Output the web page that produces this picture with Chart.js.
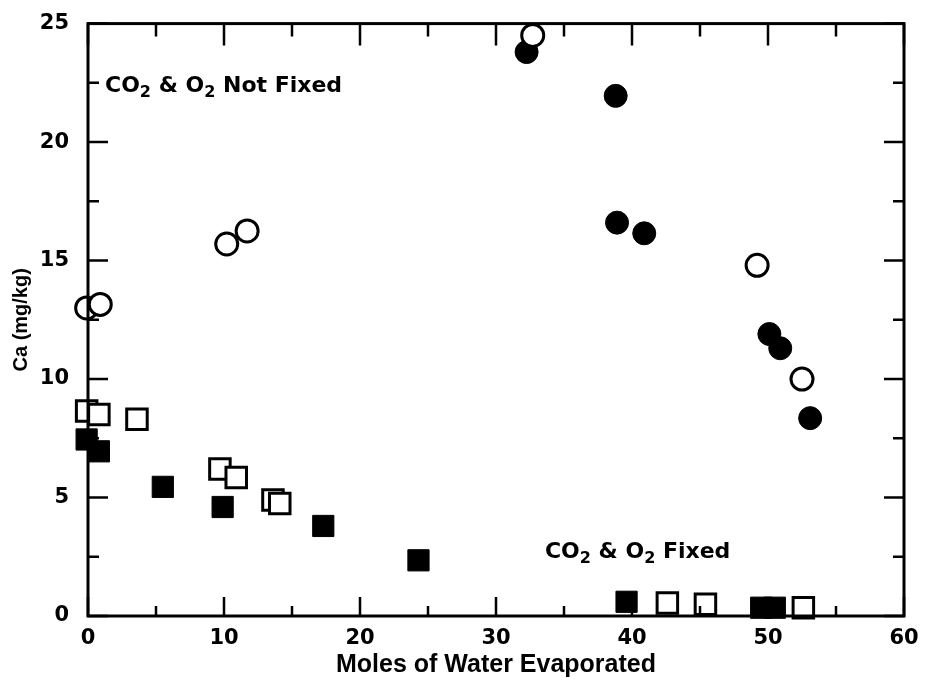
<!DOCTYPE html>
<html lang="en">
<head>
    <meta charset="UTF-8">
    <title>Ca vs Moles of Water Evaporated</title>
    <script src="https://cdn.jsdelivr.net/npm/chart.js"></script>
    <style>
        body {
            margin: 0;
            background: #fff;
        }
        .chart-container {
            width: 927px;
            height: 680px;
        }
    </style>
</head>
<body>
    <div class="chart-container">
        <canvas id="caChart"></canvas>
    </div>
    <script>
        // Ca (mg/kg) against moles of water evaporated
        const openCircleX = [-0.1, 0.9, 10.2, 11.7, 32.7, 49.2, 52.5];
        const openCircleY = [13.0, 13.15, 15.7, 16.25, 24.5, 14.8, 10.0];

        const filledCircleX = [32.25, 38.8, 38.9, 40.9, 50.1, 50.9, 53.1];
        const filledCircleY = [23.8, 21.95, 16.6, 16.15, 11.9, 11.3, 8.35];

        const openSquareX = [-0.1, 0.8, 3.6, 9.7, 10.9, 13.6, 14.1, 42.6, 45.4, 52.6];
        const openSquareY = [8.65, 8.5, 8.3, 6.2, 5.85, 4.9, 4.75, 0.55, 0.5, 0.35];

        const filledSquareX = [-0.1, 0.8, 5.5, 9.9, 17.3, 24.3, 39.6, 49.5, 50.5];
        const filledSquareY = [7.45, 6.95, 5.45, 4.6, 3.8, 2.35, 0.6, 0.35, 0.35];

        const xTicks = [0, 10, 20, 30, 40, 50, 60];
        const yTicks = [0, 5, 10, 15, 20, 25];

        // label anchors in data coordinates (left edge, baseline)
        const notFixedLabel = { x: 1.25, y: 22.1 };
        const fixedLabel = { x: 33.6, y: 2.45 };

        const FONT = '"Liberation Sans", Arial, sans-serif';
        const WIDE = '"DejaVu Sans", sans-serif';

        function toPoints(xs, ys) {
            return xs.map((x, i) => ({ x: x, y: ys[i] }));
        }

        // frame on all four sides plus inward-pointing tick marks
        const frameAndTicks = {
            id: 'frameAndTicks',
            afterDatasetsDraw(chart) {
                const ctx = chart.ctx;
                const a = chart.chartArea;
                const xs = chart.scales.x;
                const ys = chart.scales.y;
                ctx.save();
                ctx.strokeStyle = '#000';
                ctx.lineWidth = 3;
                ctx.strokeRect(a.left, a.top, a.right - a.left, a.bottom - a.top);

                ctx.lineWidth = 2.5;
                for (let v = 0; v <= 60; v += 5) {
                    const px = xs.getPixelForValue(v);
                    const major = v % 10 === 0;
                    ctx.beginPath();
                    ctx.moveTo(px, a.bottom);
                    ctx.lineTo(px, a.bottom - (major ? 19 : 10));
                    ctx.moveTo(px, a.top);
                    ctx.lineTo(px, a.top + (major ? 22 : 13));
                    ctx.stroke();
                }
                for (let v = 0; v <= 25; v += 2.5) {
                    const py = ys.getPixelForValue(v);
                    const len = v % 5 === 0 ? 20 : 11;
                    ctx.beginPath();
                    ctx.moveTo(a.left, py);
                    ctx.lineTo(a.left + len, py);
                    ctx.moveTo(a.right, py);
                    ctx.lineTo(a.right - len, py);
                    ctx.stroke();
                }
                ctx.restore();
            }
        };

        // draws "CO2 & O2 ..." with lowered subscripts
        function drawGasLabel(ctx, x, y, tail) {
            const big = 'bold 22px ' + WIDE;
            const small = 'bold 16px ' + WIDE;
            const parts = [
                ['CO', big, 0], ['2', small, 5], [' & O', big, 0], ['2', small, 5], [' ' + tail, big, 0]
            ];
            let cx = x;
            ctx.textAlign = 'left';
            ctx.textBaseline = 'alphabetic';
            parts.forEach(p => {
                ctx.font = p[1];
                ctx.fillText(p[0], cx, y + p[2]);
                cx += ctx.measureText(p[0]).width;
            });
        }

        const gasLabels = {
            id: 'gasLabels',
            afterDraw(chart) {
                const ctx = chart.ctx;
                const xs = chart.scales.x;
                const ys = chart.scales.y;
                ctx.save();
                ctx.fillStyle = '#000';
                drawGasLabel(ctx, xs.getPixelForValue(notFixedLabel.x), ys.getPixelForValue(notFixedLabel.y), 'Not Fixed');
                drawGasLabel(ctx, xs.getPixelForValue(fixedLabel.x), ys.getPixelForValue(fixedLabel.y), 'Fixed');
                ctx.restore();
            }
        };

        const ctx = document.getElementById('caChart').getContext('2d');
        window.caChart = new Chart(ctx, {
            type: 'scatter',
            data: {
                datasets: [
                    {
                        label: 'Not fixed (open)',
                        data: toPoints(openCircleX, openCircleY),
                        pointStyle: 'circle',
                        pointRadius: 11,
                        backgroundColor: '#fff',
                        borderColor: '#000',
                        borderWidth: 3,
                        clip: false
                    },
                    {
                        label: 'Not fixed (filled)',
                        data: toPoints(filledCircleX, filledCircleY),
                        pointStyle: 'circle',
                        pointRadius: 11.5,
                        backgroundColor: '#000',
                        borderColor: '#000',
                        borderWidth: 1,
                        clip: false
                    },
                    {
                        label: 'Fixed (open)',
                        data: toPoints(openSquareX, openSquareY),
                        pointStyle: 'rect',
                        pointRadius: 14.5,
                        backgroundColor: '#fff',
                        borderColor: '#000',
                        borderWidth: 3,
                        clip: false
                    },
                    {
                        label: 'Fixed (filled)',
                        data: toPoints(filledSquareX, filledSquareY),
                        pointStyle: 'rect',
                        pointRadius: 15,
                        backgroundColor: '#000',
                        borderColor: '#000',
                        borderWidth: 1,
                        clip: false
                    }
                ]
            },
            options: {
                responsive: true,
                maintainAspectRatio: false,
                animation: false,
                layout: {
                    padding: { top: 21, right: 23, left: 0, bottom: 0 }
                },
                plugins: {
                    legend: { display: false },
                    tooltip: { enabled: false }
                },
                scales: {
                    x: {
                        type: 'linear',
                        min: 0,
                        max: 60,
                        afterBuildTicks: s => { s.ticks = xTicks.map(v => ({ value: v })); },
                        afterFit: s => { s.height = 64; },
                        grid: { display: false },
                        border: { display: false },
                        ticks: {
                            color: '#000',
                            padding: 2,
                            font: { family: WIDE, size: 21, weight: 'bold' }
                        },
                        title: {
                            display: true,
                            text: 'Moles of Water Evaporated',
                            color: '#000',
                            padding: { top: 0, bottom: 0 },
                            font: { family: FONT, size: 25, weight: 'bold' }
                        }
                    },
                    y: {
                        type: 'linear',
                        min: 0,
                        max: 25,
                        afterBuildTicks: s => { s.ticks = yTicks.map(v => ({ value: v })); },
                        afterFit: s => { s.width = 88; },
                        grid: { display: false },
                        border: { display: false },
                        ticks: {
                            color: '#000',
                            padding: 11,
                            font: { family: WIDE, size: 21, weight: 'bold' }
                        },
                        title: {
                            display: true,
                            text: 'Ca (mg/kg)',
                            color: '#000',
                            padding: { top: 9, bottom: 0 },
                            font: { family: FONT, size: 20, weight: 'bold' }
                        }
                    }
                }
            },
            plugins: [frameAndTicks, gasLabels]
        });
    </script>
</body>
</html>
